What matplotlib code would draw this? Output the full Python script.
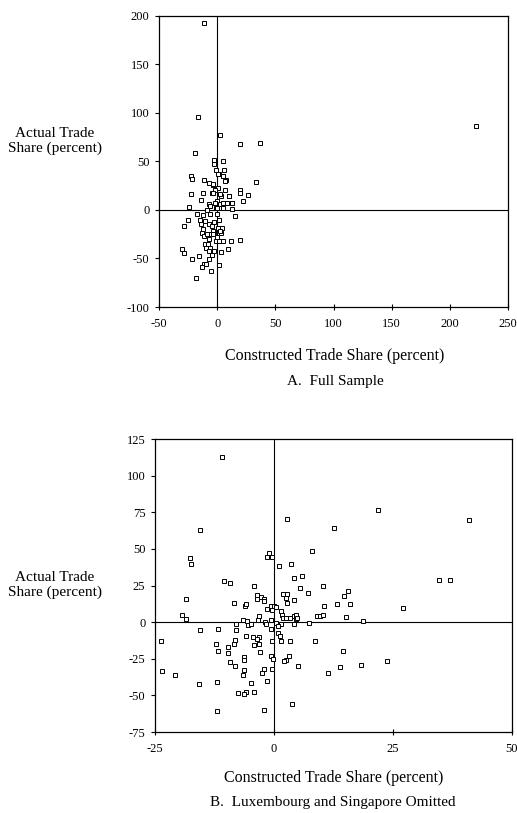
import matplotlib.pyplot as plt

plt.rcParams['font.family'] = ['Liberation Serif', 'DejaVu Serif']
plt.rcParams['axes.unicode_minus'] = False

# Panel A: full sample
full_x = [-10.9, -16.9, 2.3, 19.2, 36.4, 222.9, -18.9, -2.6, 5.4, -2.3, 5.7, -0.9, 1.4, 4.9, 7.7,
          -22.1, -21.8, -11.7, -6.6, -3.2, 1.1, 33.8, -1.7, 6.9, 19.2, 19.2, -4.3, -12.3, -22.9, 26.6,
          10.6, -13.8, 2.9, 22.6, 12.9, -24.4, 8.3, -0.3, -7.4, 4.9, -1.4, 12.9, -8.9, -17.2, 14.9,
          -24.9, -12.3, -6.0, -0.3, -28.7, -14.6, 1.4, -10.3, -13.8, -2.9, -6.6, 4.0, -12.0, 0.6,
          -12.9, -2.9, -7.4, 2.9, -11.2, -1.4, 5.4, 19.2, 1.4, 12.0, -10.3, -7.2, -30.1, -28.9, -10.0,
          -6.3, -2.6, 3.4, 9.7, -6.6, -15.2, -21.5, -6.6, -10.9, -12.9, -9.2, 2.0, -4.9, -17.8, -4.0,
          -8.9, -3.2, 5.4, 1.1, 6.9, -3.7, 2.6, -1.7, 2.6, 5.4, 12.6, -6.0, -0.3, 10.6, -4.6, -3.2,
          2.6, -0.3, -7.5, -4.6]
full_y = [192, 95.8, 77.6, 68.3, 69.3, 86.5, 59, 51.1, 50.8, 47, 41.2, 41.2, 37.4, 35, 30.6,
          35, 31.9, 30.6, 27.5, 25.7, 23, 28.8, 20.6, 20.9, 20.3, 17.5, 17.9, 17.9, 16.1, 15.1,
          14.4, 10.6, 14.4, 8.9, 7.6, 3.1, 6.9, 9.3, 5.8, 2.4, 1.7, 0.7, -0.3, -4.5, -6.5,
          -10.3, -5.5, -4.5, -4.5, -16.1, -10.3, -10, -11.3, -14.1, -12.4, -14.8, -18.2, -19.2, -18.2,
          -23.3, -22.3, -25.1, -23.3, -27.1, -31.9, -31.9, -30.9, -31.9, -32.3, -34.7, -30.2, -40.2, -44.6, -39.1,
          -39.1, -41.9, -43.6, -40.2, -42.2, -47.7, -50.8, -50.1, -55.6, -58.4, -55.6, -56.6, -63.2, -70.4, -21.6,
          -25, 26.5, 35, 36.8, 29.9, 17.8, 16.2, 7.5, 6.2, 7.5, 7.5, 4.1, 2.4, 14.4, -16.5, -25,
          -21.6, -28, -35.4, -46]

# Panel B: Luxembourg and Singapore omitted
omit_x = [-10.9, 21.9, 2.7, 41.0, 12.7, -15.6, 8.0, -1.0, -1.5, -0.4, -17.7, -17.4, 1.1, 3.5, 5.9,
          4.3, 34.6, 36.9, -10.4, -9.3, -4.3, 10.2, 5.5, 7.1, 15.6, 14.8, 1.9, 2.7, -3.5, -3.5,
          -2.7, -2.1, -2.0, -18.4, 2.5, 4.3, 2.7, -8.5, 13.2, 16.0, 10.5, -6.0, -5.8, -0.6, 0.0,
          0.5, -1.5, -0.5, 27.0, 1.4, 1.7, 1.8, 2.5, 3.3, 4.1, 4.6, 4.6, 4.8, -3.1, -3.3,
          -19.3, -18.4, -6.6, -5.7, -0.7, 9.0, 9.7, 10.2, 15.2, 18.8, -1.9, -1.7, -7.9, -5.5, -4.8,
          0.4, 1.5, 4.2, 7.3, -15.5, -11.7, -7.9, -0.6, 0.8, 0.8, 1.3, -5.8, -4.4, -3.2, -3.6,
          -0.4, 1.5, 3.3, 8.7, -23.8, -8.1, -8.3, -12.1, -3.2, -4.1, -9.6, -11.7, -9.6, 14.4, -3.0,
          3.1, 2.6, 2.1, -0.7, -0.2, -6.4, -6.4, -9.3, -8.1, 5.0, 23.8, 18.3, 13.9, -0.5, -2.0,
          -2.5, -6.4, -6.5, 11.3, -23.5, -20.9, -1.5, -4.9, -15.8, -12.0, -5.8, -4.3, -7.6, -6.3, 3.8,
          -2.2, -12.0]
omit_y = [113, 76.3, 70.4, 69.5, 64.2, 63.1, 48.5, 47.2, 44.6, 44.2, 43.7, 39.6, 38, 39.4, 31.7,
          29.8, 28.9, 28.9, 28.2, 26.4, 24.4, 24.4, 23.5, 19.6, 21, 18, 19.4, 19.4, 18.7, 15.9,
          17.3, 15.5, 14.4, 15.7, 16.2, 15.3, 13, 13, 12.5, 12.3, 10.9, 11.2, 12.1, 10.7, 10.7,
          10.3, 8.7, 8.4, 9.8, 7.5, 4.8, 3, 3, 3, 3.9, 4.8, 2.3, 3, 4.1, 1.4,
          4.6, 1.8, 1.6, 0.9, 1.4, 4.1, 3.9, 4.8, 3.4, 0.7, -0.2, -1.4, -1.1, -1.8, -1.1,
          -0.5, -1.6, -1.4, -0.9, -5.2, -4.6, -5.5, -4.8, -2.5, -7.1, -9.6, -9.3, -10.2, -10.2, -11.6,
          -13, -13, -12.8, -13, -13.2, -12.3, -14.8, -14.8, -14.8, -15.9, -17.1, -19.8, -21, -20, -20.3,
          -22.8, -26, -26.4, -23, -25.5, -24.1, -25.7, -27.3, -29.8, -30.1, -26.7, -29.6, -30.8, -31.7, -32.1,
          -34.4, -32.8, -36.2, -34.6, -33.5, -36, -40.3, -41.5, -41.9, -40.8, -47.4, -47.4, -48.7, -49.4, -55.8,
          -59.9, -61]

full_xticks = [-50, 0, 50, 100, 150, 200, 250]
full_yticks = [-100, -50, 0, 50, 100, 150, 200]
omit_xticks = [-25, 0, 25, 50]
omit_yticks = [-75, -50, -25, 0, 25, 50, 75, 100, 125]

W, H = 517, 813
fig = plt.figure(figsize=(W / 100, H / 100), dpi=100)


def panel(rect, xs, ys, xlim, ylim, xticks, yticks):
    ax = fig.add_axes(rect)
    ax.plot(xs, ys, ls='none', marker='s', ms=3.3, mfc='white', mec='black', mew=0.7, zorder=3)
    ax.axhline(0, color='black', lw=0.8, zorder=2)
    ax.axvline(0, color='black', lw=0.8, zorder=2)
    ax.set_xlim(xlim)
    ax.set_ylim(ylim)
    ax.set_xticks(xticks)
    ax.set_yticks(yticks)
    ax.tick_params(axis='x', direction='inout', length=4, width=0.8, labelsize=9, pad=6)
    ax.tick_params(axis='y', direction='out', length=3, width=0.8, labelsize=9, pad=4)
    for s in ax.spines.values():
        s.set_linewidth(0.9)
    return ax


def px_rect(l, t, r, b):
    return [l / W, 1 - b / H, (r - l) / W, (b - t) / H]


panel(px_rect(159, 15.7, 508, 307), full_x, full_y, (-50, 250), (-100, 200), full_xticks, full_yticks)
panel(px_rect(155, 439, 512, 732), omit_x, omit_y, (-25, 50), (-75, 125), omit_xticks, omit_yticks)

fig.text(55 / W, 1 - 141 / H, 'Actual Trade\nShare (percent)', ha='center', va='center', fontsize=11, linespacing=1.15)
fig.text(55 / W, 1 - 585 / H, 'Actual Trade\nShare (percent)', ha='center', va='center', fontsize=11, linespacing=1.15)
fig.text(335 / W, 1 - 356 / H, 'Constructed Trade Share (percent)', ha='center', va='center', fontsize=11.5)
fig.text(335 / W, 1 - 381 / H, 'A.  Full Sample', ha='center', va='center', fontsize=11)
fig.text(334 / W, 1 - 778 / H, 'Constructed Trade Share (percent)', ha='center', va='center', fontsize=11.5)
fig.text(333 / W, 1 - 802 / H, 'B.  Luxembourg and Singapore Omitted', ha='center', va='center', fontsize=11)

fig.savefig('out.png', dpi=100)
